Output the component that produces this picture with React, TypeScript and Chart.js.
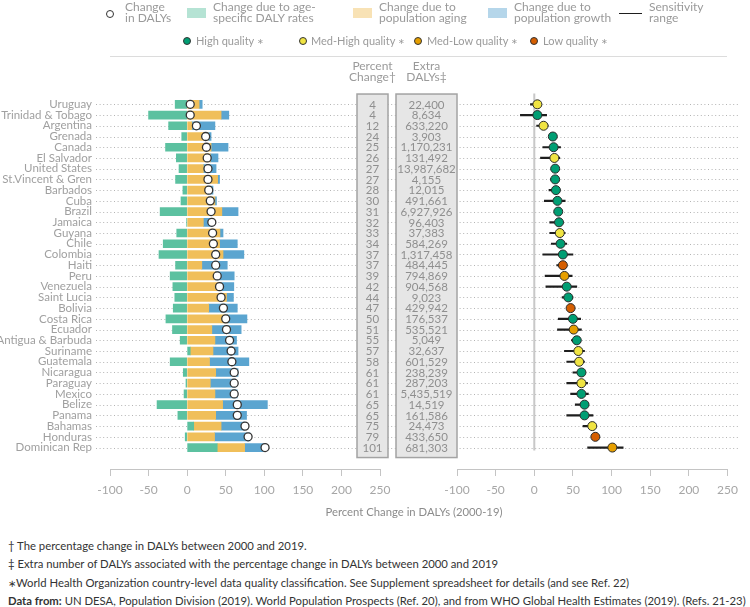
import React, { useEffect, useRef } from "react";
import { Chart, registerables } from "chart.js";
Chart.register(...registerables);

const COUNTRIES = [
  "Uruguay", "Trinidad & Tobago", "Argentina", "Grenada", "Canada", "El Salvador",
  "United States", "St.Vincent & Gren", "Barbados", "Cuba", "Brazil", "Jamaica",
  "Guyana", "Chile", "Colombia", "Haiti", "Peru", "Venezuela", "Saint Lucia",
  "Bolivia", "Costa Rica", "Ecuador", "Antigua & Barbuda", "Suriname", "Guatemala",
  "Nicaragua", "Paraguay", "Mexico", "Belize", "Panama", "Bahamas", "Honduras",
  "Dominican Rep",
];
const PCT_CHANGE = [4, 4, 12, 24, 25, 26, 27, 27, 28, 30, 31, 32, 33, 34, 37, 37, 39, 42, 44, 47, 50, 51, 55, 57, 58, 61, 61, 61, 65, 65, 75, 79, 101];
const EXTRA_DALYS = [
  "22,400", "8,634", "633,220", "3,903", "1,170,231", "131,492", "13,987,682", "4,155",
  "12,015", "491,661", "6,927,926", "96,403", "37,383", "584,269", "1,317,458", "484,445",
  "794,869", "904,568", "9,023", "429,942", "176,537", "535,521", "5,049", "32,637",
  "601,529", "238,239", "287,203", "5,435,519", "14,519", "161,586", "24,473", "433,650",
  "681,303",
];
const AGE_RATES = [-15.5, -50, -24, -7, -28, -14, -10.5, -15, -5.5, -8, -35, -0.5, -13.5, -31, -36.5, -15, -22, -18.5, -16, -18, -27.5, -19, -9, 4, -22, -5, -1.5, -4, -39, -12, 8.5, -2.5, 39];
const AGING = [15.5, 44, 6, 27, 31, 30, 21, 39.5, 26, 36, 45, 21, 42.5, 42, 46.5, 19, 37, 44, 51, 28, 52, 32, 36, 29.5, 29, 37, 30, 36, 46, 37, 35.5, 35.5, 35.5];
const GROWTH = [4, 10, 30, 4, 22, 10, 16.5, 2.5, 7.5, 2, 21, 11.5, 4, 23, 27, 33, 24, 16.5, 9, 37, 25.5, 38, 28, 32.5, 51, 29, 32.5, 29, 58, 40, 30.5, 46, 26.5];
const SENS_LOW = [-5, -18, 3, 21, 11, 8, 22, 21, 19, 13, 28, 20, 20, 22, 11, 29, 14, 15, 36, 43, 31, 30, 48, 39, 42, 50, 42, 47, 53, 42, 63, 76, 69];
const SENS_HIGH = [8, 16, 18, 27, 34, 33, 31, 31, 33, 40, 34, 37, 40, 42, 50, 42, 49, 55, 50, 51, 60, 61, 60, 65, 65, 64, 69, 70, 70, 76, 80, 82, 115];
// H = high, MH = med-high, ML = med-low, L = low
const QUALITY = ["MH", "H", "MH", "H", "H", "MH", "H", "H", "H", "H", "H", "H", "MH", "H", "H", "L", "ML", "H", "H", "L", "H", "ML", "H", "MH", "MH", "H", "MH", "H", "H", "H", "MH", "L", "ML"];
const X_MIN = -100;
const X_MAX = 250;
const X_STEP = 50;
const Y_MIN = -1;
const Y_MAX = 34;

const Q_COLORS: Record<string, string> = { H: "#009e73", MH: "#f0e442", ML: "#e69f00", L: "#d55e00" };
const C_AGE = "#5cc1a0";
const C_AGING = "#f0bf5a";
const C_GROWTH = "#5ba5d0";
const FONT = "Lato, 'Liberation Sans', sans-serif";
const LABEL_COLOR = "#a0a0a0";

const ROW_IDX = COUNTRIES.map((_, i) => i);

function xAxis() {
  return {
    type: "linear" as const,
    min: X_MIN,
    max: X_MAX,
    ticks: { stepSize: X_STEP, color: "#a6a6a6", font: { family: FONT, size: 12 }, padding: 7 },
    grid: { drawOnChartArea: false, drawTicks: true, tickLength: 7, color: "#c4c4c4" },
    border: { color: "#c4c4c4", width: 1 },
    afterFit: (s: any) => { s.height = 40; s.paddingLeft = 0; s.paddingRight = 0; },
  };
}

function yAxis(show: boolean) {
  return {
    type: "linear",
    reverse: true,
    min: Y_MIN,
    max: Y_MAX,
    bounds: "data",
    offset: false,
    grace: 0,
    display: show,
    afterBuildTicks: (s: any) => {
      s.ticks = ROW_IDX.map((v) => ({ value: v }));
      s.min = Y_MIN;
      s.max = Y_MAX;
    },
    afterFit: (s: any) => { s.width = show ? 110 : 0; s.paddingTop = 0; s.paddingBottom = 0; },
    ticks: {
      autoSkip: false, padding: 18, color: LABEL_COLOR, font: { family: FONT, size: 11.5 },
      callback: (v: any) => COUNTRIES[v] ?? "",
    },
    grid: { display: false, drawTicks: false },
    border: { display: false },
  } as any;
}

export default function App() {
  const refA = useRef<HTMLCanvasElement>(null);
  const refB = useRef<HTMLCanvasElement>(null);

  useEffect(() => {
    const rowPlugin = {
      id: "rowsTable",
      beforeDatasetsDraw(chart: any) {
        const ctx = chart.ctx;
        const y = chart.scales.y;
        ctx.save();
        ctx.strokeStyle = "#b4b4b4";
        ctx.lineWidth = 1;
        ctx.setLineDash([1, 2.6]);
        ROW_IDX.forEach((i) => {
          const py = Math.round(y.getPixelForValue(i)) + 0.5;
          ctx.beginPath();
          ctx.moveTo(96, py);
          ctx.lineTo(738, py);
          ctx.stroke();
        });
        ctx.setLineDash([]);
        const top = y.getPixelForValue(0) - 10.3;
        const bot = y.getPixelForValue(COUNTRIES.length - 1) + 10;
        const boxes = [
          { x0: 357, x1: 388, vals: PCT_CHANGE.map(String) },
          { x0: 396, x1: 457, vals: EXTRA_DALYS },
        ];
        boxes.forEach((b) => {
          ctx.fillStyle = "#e6e6e6";
          ctx.fillRect(b.x0, top, b.x1 - b.x0, bot - top);
          ctx.strokeStyle = "#a3a3a3";
          ctx.lineWidth = 1.5;
          ctx.strokeRect(b.x0, top, b.x1 - b.x0, bot - top);
          ctx.fillStyle = "#8f8f8f";
          ctx.font = `11.5px ${FONT}`;
          ctx.textAlign = "center";
          ctx.textBaseline = "middle";
          b.vals.forEach((v, i) => {
            ctx.fillText(v, (b.x0 + b.x1) / 2, y.getPixelForValue(i) + 0.5);
          });
        });
        ctx.fillStyle = "#9a9a9a";
        ctx.font = `12px ${FONT}`;
        ctx.fillText("Percent", 372.5, 66);
        ctx.fillText("Change\u2020", 372.5, 77.5);
        ctx.fillText("Extra", 426.5, 66);
        ctx.fillText("DALYs\u2021", 426.5, 77.5);
        ctx.restore();
      },
    };

    const a = new Chart(refA.current!, {
      type: "bar",
      data: {
        datasets: [
          { label: "age", data: AGE_RATES.map((v, i) => ({ x: v, y: i })), backgroundColor: C_AGE, barThickness: 8, order: 2 },
          { label: "aging", data: AGING.map((v, i) => ({ x: v, y: i })), backgroundColor: C_AGING, barThickness: 8, order: 2 },
          { label: "growth", data: GROWTH.map((v, i) => ({ x: v, y: i })), backgroundColor: C_GROWTH, barThickness: 8, order: 2 },
          {
            type: "scatter", label: "change", stack: "circles",
            data: PCT_CHANGE.map((v, i) => ({ x: v, y: i })),
            pointRadius: 4, pointBackgroundColor: "#ffffff", pointBorderColor: "#333333", pointBorderWidth: 1.3, order: 0,
          } as any,
        ],
      },
      options: {
        indexAxis: "y",
        responsive: false,
        animation: false,
        events: [],
        layout: { padding: { left: 0, right: 370, top: 93.6, bottom: 11 } },
        plugins: { legend: { display: false }, tooltip: { enabled: false } },
        scales: {
          x: { ...xAxis(), stacked: true } as any,
          y: { ...yAxis(true), stacked: true },
        },
      },
      plugins: [rowPlugin],
    });

    const zeroPlugin = {
      id: "zeroLine",
      beforeDatasetsDraw(chart: any) {
        const ctx = chart.ctx;
        const x = chart.scales.x.getPixelForValue(0);
        const y = chart.scales.y;
        ctx.save();
        ctx.strokeStyle = "#c8c8c8";
        ctx.lineWidth = 2;
        ctx.beginPath();
        ctx.moveTo(x, y.getPixelForValue(Y_MIN));
        ctx.lineTo(x, y.getPixelForValue(COUNTRIES.length - 1) + 3);
        ctx.stroke();
        ctx.restore();
      },
    };

    const b = new Chart(refB.current!, {
      type: "bar",
      data: {
        datasets: [
          {
            label: "range", data: SENS_LOW.map((lo, i) => ({ x: [lo, SENS_HIGH[i]], y: i })) as any,
            backgroundColor: "#1e1e1e", barThickness: 1.5, order: 2,
          },
          {
            type: "scatter", label: "quality",
            data: PCT_CHANGE.map((v, i) => ({ x: v, y: i })),
            pointRadius: 4.5, pointBackgroundColor: QUALITY.map((q) => Q_COLORS[q]),
            pointBorderColor: "#2a2a2a", pointBorderWidth: 1, order: 0,
          } as any,
        ],
      },
      options: {
        indexAxis: "y",
        responsive: false,
        animation: false,
        events: [],
        layout: { padding: { left: 17, right: 22.5, top: 93.6, bottom: 11 } },
        plugins: { legend: { display: false }, tooltip: { enabled: false } },
        scales: {
          x: xAxis() as any,
          y: yAxis(false),
        },
      },
      plugins: [zeroPlugin],
    });

    return () => { a.destroy(); b.destroy(); };
  }, []);

  const legendText: React.CSSProperties = {
    position: "absolute", fontSize: 12, lineHeight: "11px", color: "#9a9a9a", whiteSpace: "nowrap",
  };
  const qText: React.CSSProperties = {
    position: "absolute", fontSize: 11, lineHeight: "14px", color: "#9a9a9a", whiteSpace: "nowrap", top: 34,
  };
  const star: React.CSSProperties = { fontSize: 8, verticalAlign: "1px" };
  const dot = (cx: number, cy: number, color: string, bw = 1): React.CSSProperties => ({
    position: "absolute", left: cx - 4, top: cy - 4, width: 8, height: 8, boxSizing: "border-box",
    borderRadius: "50%", background: color, border: `${bw}px solid #333`,
  });
  const foot: React.CSSProperties = {
    position: "absolute", left: 8, fontSize: 11.3, lineHeight: "14px", color: "#333", whiteSpace: "nowrap",
  };

  return (
    <div style={{ position: "absolute", left: 0, top: 0, width: 750, height: 607, fontFamily: FONT, background: "#fff", overflow: "hidden" }}>
      <canvas ref={refA} width={750} height={520} style={{ position: "absolute", left: 0, top: 0 }} />
      <canvas ref={refB} width={310} height={520} style={{ position: "absolute", left: 440, top: 0 }} />

      {/* legend row 1 */}
      <div style={dot(110, 13.5, "#fff", 1.2)} />
      <div style={{ ...legendText, left: 125, top: 1 }}>Change<br />in DALYs</div>
      <div style={{ position: "absolute", left: 187, top: 8, width: 19, height: 10, background: "rgba(92,193,160,0.45)" }} />
      <div style={{ ...legendText, left: 213, top: 1 }}>Change due to age-<br />specific DALY rates</div>
      <div style={{ position: "absolute", left: 353, top: 8, width: 19, height: 10, background: "rgba(240,191,90,0.45)" }} />
      <div style={{ ...legendText, left: 379, top: 1 }}>Change due to<br />population aging</div>
      <div style={{ position: "absolute", left: 488, top: 8, width: 19, height: 10, background: "rgba(91,165,208,0.45)" }} />
      <div style={{ ...legendText, left: 514, top: 1 }}>Change due to<br />population growth</div>
      <div style={{ position: "absolute", left: 619, top: 12.5, width: 23, height: 1.6, background: "#1e1e1e" }} />
      <div style={{ ...legendText, left: 649, top: 1 }}>Sensitivity<br />range</div>

      {/* legend row 2 */}
      <div style={dot(187, 41, Q_COLORS.H)} />
      <div style={{ ...qText, left: 196 }}>High quality <span style={star}>{"\u2217"}</span></div>
      <div style={dot(302.7, 41, Q_COLORS.MH)} />
      <div style={{ ...qText, left: 311 }}>Med-High quality <span style={star}>{"\u2217"}</span></div>
      <div style={dot(418.3, 41, Q_COLORS.ML)} />
      <div style={{ ...qText, left: 427 }}>Med-Low quality <span style={star}>{"\u2217"}</span></div>
      <div style={dot(534.3, 41, Q_COLORS.L)} />
      <div style={{ ...qText, left: 543 }}>Low quality <span style={star}>{"\u2217"}</span></div>
      <div style={{ position: "absolute", left: 110, top: 56, width: 617, height: 1, background: "#dcdcdc" }} />

      {/* axis title */}
      <div style={{ position: "absolute", left: 0, width: 828, top: 505, textAlign: "center", fontSize: 11.3, lineHeight: "14px", color: "#8c8c8c" }}>
        Percent Change in DALYs (2000-19)
      </div>

      {/* footnotes */}
      <div style={{ ...foot, top: 539 }}>{"\u2020"} The percentage change in DALYs between 2000 and 2019.</div>
      <div style={{ ...foot, top: 557 }}>{"\u2021"} Extra number of DALYs associated with the percentage change in DALYs between 2000 and 2019</div>
      <div style={{ ...foot, top: 576 }}><span style={{ fontSize: 10 }}>{"\u2217"}</span>World Health Organization country-level data quality classification. See Supplement spreadsheet for details (and see Ref. 22)</div>
      <div style={{ ...foot, top: 594 }}><b>Data from:</b> UN DESA, Population Division (2019). World Population Prospects (Ref. 20), and from WHO Global Health Estimates (2019). (Refs. 21-23)</div>
    </div>
  );
}
